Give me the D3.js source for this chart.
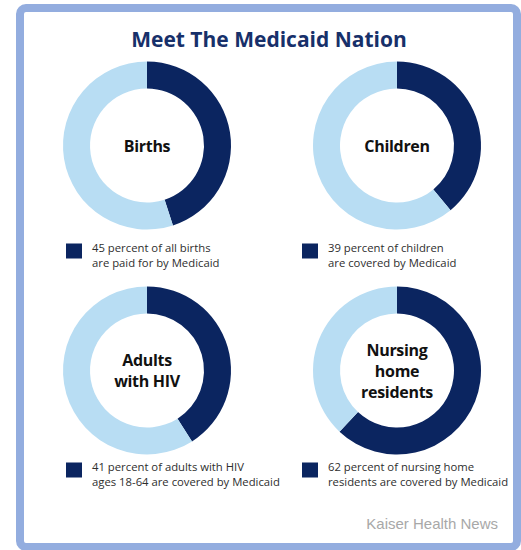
<!DOCTYPE html>
<html><head><meta charset="utf-8">
<script src="https://cdn.jsdelivr.net/npm/d3@7"></script>
<style>
html,body{margin:0;padding:0;background:#fff;}
svg{display:block;}
</style></head>
<body>
<svg id="chart" width="521" height="550"></svg>
<script>
const title = "Meet The Medicaid Nation";
const categories = ["Births", "Children", "Adults with HIV", "Nursing home residents"];
const centerLabels = [["Births"], ["Children"], ["Adults", "with HIV"], ["Nursing", "home", "residents"]];
const percentValues = [45, 39, 41, 62];
const legendLines = [
  ["45 percent of all births", "are paid for by Medicaid"],
  ["39 percent of children", "are covered by Medicaid"],
  ["41 percent of adults with HIV", "ages 18-64 are covered by Medicaid"],
  ["62 percent of nursing home", "residents are covered by Medicaid"]
];
const source = "Kaiser Health News";

const svg = d3.select("#chart");
const dark = "#0b2560", light = "#b8ddf3";

// frame
svg.append("rect").attr("x", 20).attr("y", 8).attr("width", 497).attr("height", 539)
  .attr("rx", 6).attr("fill", "#fff").attr("stroke", "#93addf").attr("stroke-width", 8);

svg.append("text").attr("x", 269).attr("y", 47).attr("text-anchor", "middle")
  .attr("font-family", "Open Sans").attr("font-weight", 700).attr("font-size", 21)
  .attr("fill", "#17306a").text(title);

// grid layout via band scales
const col = d3.scaleBand().domain([0, 1]).range([22, 522]);
const row = d3.scaleBand().domain([0, 1]).range([34, 484]);
const legendX = [66, 302];
const legendDy = [98, 92];
const outerR = 84, innerR = 57;
const pie = d3.pie().sort(null).value(d => d);
const arc = d3.arc().innerRadius(innerR).outerRadius(outerR);

categories.forEach((cat, i) => {
  const c = i % 2, r = Math.floor(i / 2);
  const cx = col(c) + col.bandwidth() / 2;
  const cy = row(r) + row.bandwidth() / 2 - 1;
  const g = svg.append("g").attr("transform", `translate(${cx},${cy})`);
  const v = percentValues[i];
  g.selectAll("path").data(pie([v, 100 - v])).join("path")
    .attr("d", arc).attr("fill", (d, j) => j === 0 ? dark : light);
  const lines = centerLabels[i];
  const lh = 21;
  const startY = 6 - (lines.length - 1) * lh / 2;
  lines.forEach((t, k) => {
    g.append("text").attr("x", 0).attr("y", startY + k * lh).attr("text-anchor", "middle")
      .attr("font-family", "Open Sans").attr("font-weight", 700).attr("font-size", 16)
      .attr("letter-spacing", -0.3).attr("fill", "#111").text(t);
  });
  // legend
  const lx = legendX[c], ly = cy + legendDy[r];
  svg.append("rect").attr("x", lx).attr("y", ly).attr("width", 16).attr("height", 15).attr("fill", dark);
  legendLines[i].forEach((t, k) => {
    svg.append("text").attr("x", lx + 26).attr("y", ly + 8 + k * 15)
      .attr("font-family", "Open Sans").attr("font-size", 11.3)
      .attr("fill", "#2e2e2e").text(t);
  });
});

svg.append("text").attr("x", 498).attr("y", 529).attr("text-anchor", "end")
  .attr("font-family", "Liberation Sans, Arial").attr("font-size", 15)
  .attr("fill", "#a8a8a8").text(source);
</script>
</body></html>
